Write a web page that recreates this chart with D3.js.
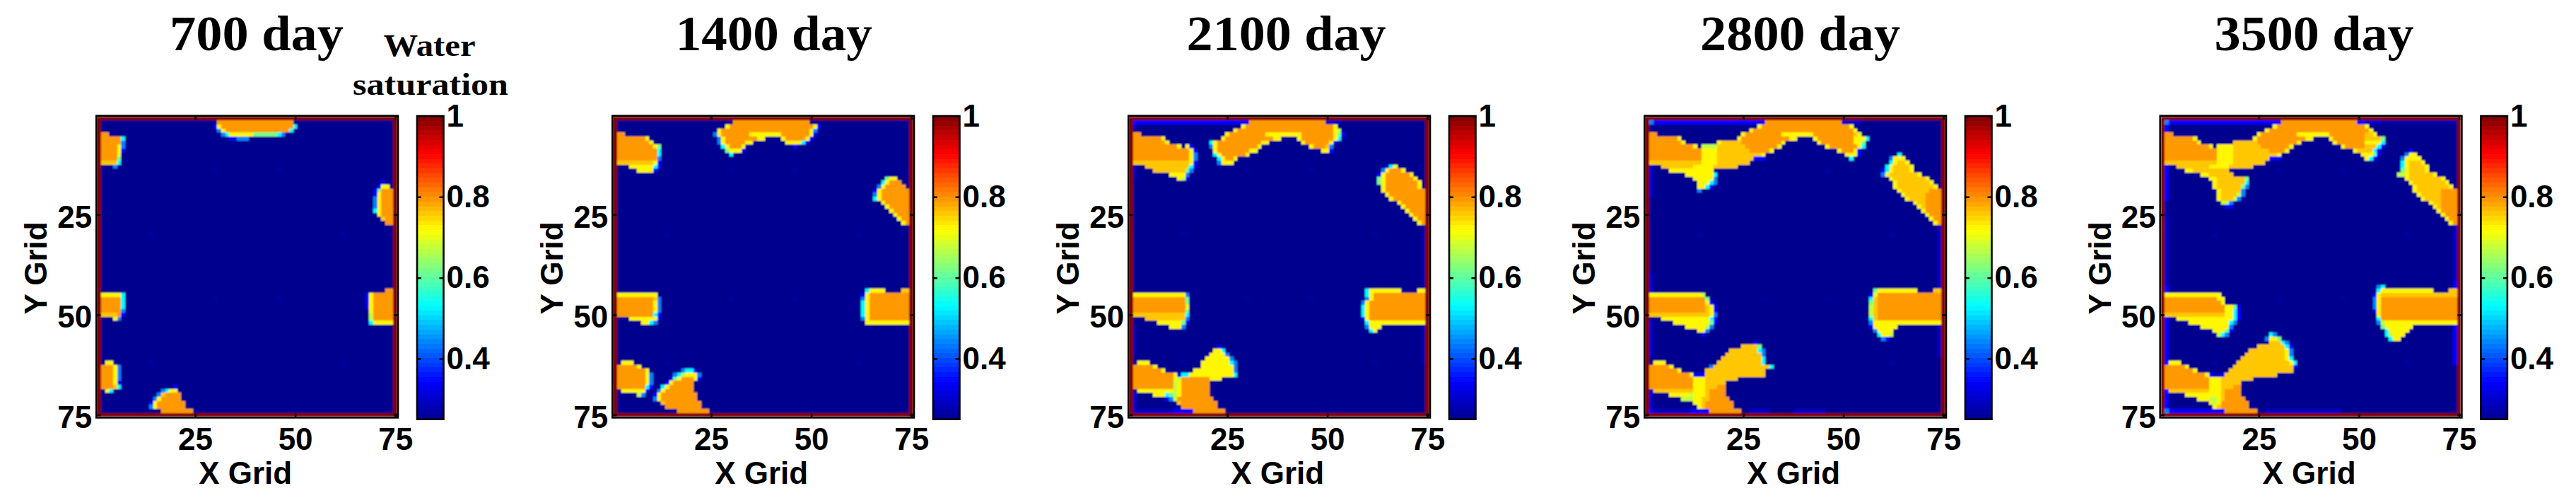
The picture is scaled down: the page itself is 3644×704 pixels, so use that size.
<!DOCTYPE html>
<html><head><meta charset="utf-8">
<script src="https://cdn.jsdelivr.net/npm/d3@7"></script>
<style>html,body{margin:0;background:#fff}svg{display:block}</style></head>
<body><svg id="c" width="3644" height="704"></svg>
<script>
const days=["700 day","1400 day","2100 day","2800 day","3500 day"];
const xTicks=[25,50,75], yTicks=[25,50,75], barTicks=[0.4,0.6,0.8,1];
const gridSize=75, boundaryLines=[1,75], backgroundValue=0.25, boundaryValue=1;
const levelCodes=["f","m","b","a","c","g","l","y","z","o"];
const levelValues=[0.27,0.295,0.344,0.44,0.53,0.62,0.672,0.725,0.76,0.794];
const jetStops=[0,0.125,0.375,0.625,0.875,1];
const jetColors=["#00008f","#0000ff","#00ffff","#ffff00","#ff0000","#800000"];
const faintCells=[[30,14],[46,14],[14,30],[62,30],[30,46],[46,46],[14,62],[62,62]];
// each entry "row|startCol:runs"; runs are count + saturation level code
const sat700=["2|31:19o","3|30:1b1y18o1c","4|31:1a1y16o1c","5|32:1a1c6y6g1c1a","6|34:2b3a",
"5|2:2o","6|2:5o1c","7|2:5o1a","8|2:4o1y1a","9|2:4o1y1b","10|2:4o1y","11|2:4o1g","12|2:4z1c","13|5:1a",
"17|72:1b","18|71:1b2y","19|70:1b1g3o","20|70:1b1y3o","21|70:1a1y3o","22|70:1a1y3o","23|70:1a1y3o","24|70:1c1y3o","25|71:1y3o","26|72:1z2o","27|73:2o",
"45|2:5y1c","46|2:5o1c","47|2:5o1c","48|2:5o1c","49|2:5o1a","50|2:4z1o1b","51|5:1y1a",
"44|73:2o","45|68:1b1y5o","46|68:1b1y5o","47|68:1b1y5o","48|68:1b1y5o","49|69:1y5o","50|69:1l5o","51|69:1l5o","52|69:1c5y",
"62|3:2y","63|2:3o1y1a","64|2:3o1y1a","65|2:3o1y1a","66|2:3o1y1a","67|2:3o1y1b","68|2:3o1z1c","69|3:1y1c",
"68|20:1b","69|17:1a1c2y","70|16:1a1z4o","71|15:1a1y5o","72|14:1b1y7o","73|14:1a1y7o","74|17:8o"];
const sat1400=["2|31:19o","3|29:1y21o1y1b","4|27:1y22o1y1a","5|26:1a1y7o8y7o1y1b","6|27:1a1y8o2y","6|43:1y5o1y1b","7|27:1a1y5o2y","7|44:4y1c1b","8|28:1c1y3o1y","8|46:1b","9|29:1g3y1b","10|30:1c",
"5|2:2o","6|2:7o1y","7|2:8o1y","8|2:9o1y1g","9|2:10o1c","10|2:10o1c","11|2:10o1a","12|2:9z1y1b","13|5:6y1c1b","14|7:4y1b",
"16|69:1g2y","17|68:1c1y3o","18|67:1a1y5o","19|66:1b1y7o","20|66:1a1y7o","21|66:1c1y7o","22|68:1y6o","23|69:1y5o","24|70:1y4o","25|71:1y3o","26|72:1y2o","27|73:1y1o",
"45|2:10y","46|2:9o1z1a","47|2:9o1y1a","48|2:9o1y1a","49|2:9o1y1a","50|2:9o1c1b","51|5:7y1b","52|8:2y1c1a",
"44|64:1c4y","44|73:2z","45|63:1b1y10o","46|63:1a1y10o","47|63:1c1y10o","48|63:1c1y10o","49|63:1c1y10o","50|63:1c1y10o","51|63:1a1y10o","52|64:11y",
"62|3:3y","63|2:5o1y","64|2:7o1y","65|2:7o1y1a","66|2:7o1y1a","67|2:7o1y1a","68|2:7o1c1b","69|3:6y1b","70|7:1l1a",
"64|18:1a2c1b","65|16:1a1c1l3y1a","66|15:1b1g1y3o1y1b","67|14:1b1y5o","68|13:1c1y6o","69|12:1a1y7o","70|11:1b1y9o","71|11:1a1y9o","72|13:1z9o","73|14:9o","74|17:8o"];
const sat2100=["2|2:1b28b19o4m","3|2:1m","3|29:1y22o1y","4|27:1y24o1y1l","5|25:1y9o9y8o1y1g1b","6|24:1y12o2y","6|43:1y8o1y1c","7|21:1c1y11o2y","7|44:1y6o1y1b","8|21:1a1y10o1y","8|46:1y3o1z1a","9|22:1y8o2y","9|49:2y1b","10|22:1c1y6o1y","11|23:1c1y2o1y","12|23:1a3y",
"5|2:2o","6|2:7o1y","7|2:8o1y","8|2:11o1y","8|15:1y1b","9|2:14o1y1b","10|2:14o1y1a","11|2:14o1y1a","12|2:14z1y1b","13|5:11z1c1b","14|7:8z1g1a","15|11:4y1a","16|13:1y1l1b",
"13|65:1b1c1y","14|64:1a1y3o1y","15|63:1b1y6o1y","16|63:1g1y7o1y","17|63:1g1y8o1y","18|64:1y8o1y","19|64:1y10o","20|65:1y9o","21|66:1y8o","22|68:1y6o","23|69:1y5o","24|70:1y4o","25|71:1y3o","26|72:1y2o","27|73:1y1o",
"45|2:13y1a","46|2:13o1g","47|2:13o1g","48|2:13o1y","49|2:13o1g","50|2:13z1c","51|5:10z1a","52|8:6y1g1b","53|11:3y1a",
"44|60:1c8y","44|73:2y","45|60:1c1y13o","46|60:1a1y13o","47|59:1a1y14o","48|59:1c1y14o","49|59:1c1y14o","50|59:1c1y14o","51|59:1b1y14o","52|60:1c14y","53|60:1a3y","54|61:1c1y",
"58|23:1b","59|22:2y1c","60|21:4y1a","61|20:6y1a","62|19:7y1c1a","63|19:8y1a","64|17:10y1a","65|13:1b2c11y1c",
"62|3:3y","63|2:5o1y","64|2:7o1y","65|2:10o1y","66|2:10o1y1l7o3y","67|2:10o1l1y7o","68|2:10o1l1y7o","69|3:9y1l1y7o","70|7:3y1c1g1l1y7o","71|10:1b1a1l9o","72|13:1z9o","73|14:9o","74|2:10m5b","74|17:8o"];
const sat2800=["2|2:1a28b19o5m","3|29:1y22o1y","4|27:1y25o1y","5|25:1y9o8y10o1z1y","6|24:1y12o2y","6|43:1y9o3y1c","7|44:1y8o2y1g","8|46:1y7o1y1c","9|49:1y3o1y1b","10|51:3y1b","11|52:1c",
"5|2:2o","6|2:7o1y","7|2:8o1y","7|19:1y5z10o1y","8|2:11o1y","8|15:4l7z8o1y","9|2:13o4y8z5o1y","10|2:13o4y11z1y","11|2:13o4y9z","11|28:3b","12|2:13z4y8z","13|5:8z5y6z","14|7:11y","15|11:7y1c","16|13:5y1a","17|14:3y1c1a","18|14:2y1c1b","19|14:1a",
"10|64:1c","11|62:1a3y","12|62:1c1y2z1y","13|61:1c1y4z1y","14|60:1b1c1y4z1y","15|60:1a1y7z1y","16|62:1y8z1y","17|63:1y8z1y","18|63:1y9z1y","19|64:1y7z3o","20|65:1y5z4o","21|66:1y4z4o","22|68:1y2z4o","23|69:1y1z4o","24|70:1y4o","25|71:1y3o","26|72:1y2o","27|73:1y1o",
"45|2:13y1l","46|2:14o1g","47|2:14o1y1b","48|2:14o1z1y1b","49|2:14o1z1y1b","50|2:14z1z1y1a","51|5:12y1c1b","52|8:9y1g1b","53|11:5y1l1a","54|14:2y1a","55|15:1b",
"44|58:1g10y","44|73:2z","45|57:1b1y16o","46|57:1c1z16o","47|57:1g1z16o","48|57:1l1z16o","49|57:1l1z16o","50|57:1l1z16o","51|57:1c1z16o","52|57:1a17y","53|57:1b6y","54|58:1a4y","55|59:1c2y1l","56|60:1a1b",
"57|28:1b","58|25:4z1g","59|22:7z1c1a","60|21:9z1a","61|20:10z1c","62|19:11z1c","62|3:3y","63|17:1a14z1c","63|2:5o1y","64|2:7o1y","64|16:15z","65|2:10o1y","65|13:3b15z","66|2:11o3y8z","67|2:11o3y5z","68|2:11o3y3z2o","69|3:10z3y1z4o","70|7:5y1l3y1z4o","71|10:3l2y2z5o","72|13:2y1z7o","73|14:1y1z7o","74|2:1b9m5b","74|17:8o","74|27:5m","74|38:8m"];
const sat3500=["2|2:1a15b13b19o2b4m","2|56:19f","3|2:1b","3|29:1y22o1y","4|2:1b","4|27:1y25o1y","5|25:1y9o8y9o2z1y","6|24:1y12o2y","6|43:1y8o4z1g","7|19:6z10o1y","7|44:1y7o4y1c","8|46:1y5o3z1c1b","9|49:1y4z1c1b","10|51:3y1g1b","11|52:1y1c1b",
"5|2:2o","6|2:7o1y","7|2:8o1y","8|2:11o1y","8|15:4y7z7o1y","9|2:13o4y9z4o1y","10|2:13o4y11z1y","11|2:13o4y9z","11|28:3b","12|2:13z4y8z","13|5:8z5y6z","14|7:2y9z","15|11:2y6z","16|13:2y7z1g","17|14:1y7z1c","18|14:1y6z1g1a","19|15:1y5z1a","20|15:1y4z1l1a","21|15:1y3z1l1a","22|16:2l1a","23|17:2b",
"9|63:1b","10|62:1a2y","11|61:1a4y","12|61:1c1y3z1y","13|61:1c1y4z1y","14|61:1g1y4z1y","15|60:2l1y6z1y","16|62:1y8z1y","17|63:1y8z1y","18|64:1y8z1y","19|64:1y6z4o","20|65:1y5z4o","21|66:1y4z4o","22|68:1y2z4o","23|69:1y1z4o","24|70:1y4o","25|71:1y3o","26|72:1y2o","27|73:1y1o",
"45|2:14y","46|2:13o2y","47|2:14o1y","48|2:15o2y1g1b","49|2:15o2y1c1b","50|2:15z2y1c1b","51|5:14y1c1b","52|8:10y1c1a","53|11:7y1a","54|14:3y1g1b","55|15:1l1c1a",
"43|55:1a1c","44|55:1c13y","44|73:2z","45|54:1b1y19z","46|54:1a1y19o","47|54:1a1y19o","48|54:1a1y19o","49|54:1b1y19o","50|55:1y19o","51|55:1c19o","52|55:1a1l18y","53|56:1g7y","54|57:1c5y","55|57:1c1l3y","56|58:1c2y",
"55|28:1c1a","56|27:1a2y1g","57|28:3z1c1a","58|25:7z1c1b","59|23:9z1y1a","60|22:10z1y1a","61|21:11z1y1c","62|3:3y","62|20:13z1y1c","63|2:5o1y","63|19:15z1b","64|2:7o1y","64|18:16z","65|2:10o1y","65|13:1b2m1b","65|17:13z","66|2:11o3y8z","67|2:11o3y5z","68|2:11o3y3z2o","69|3:10z3y1z4o","70|7:9y1z4o","71|10:3y2l1y1z5o","72|13:1y1l1y7o","73|14:1y1z7o","74|2:1a6b8b","74|17:8o","74|27:10m9m"];
// columns with a faint blue line: [col, firstRow, lastRow, level]
const edges700=[], edges1400=[];
const edges2100=[[2,13,16,"f"],[2,53,60,"f"],[2,70,73,"m"],[74,28,43,"f"],[74,53,62,"f"]];
const edges2800=[[2,13,20,"m"],[2,40,44,"m"],[2,52,60,"m"],[2,69,73,"m"],[74,28,44,"m"],[74,53,60,"m"]];
const edges3500=[[2,13,21,"b"],[2,22,25,"f"],[2,26,42,"m"],[2,43,44,"b"],[2,51,62,"b"],[2,69,73,"b"],[74,28,41,"m"],[74,42,43,"b"],[74,52,62,"b"]];
const panelData=[sat700,sat1400,sat2100,sat2800,sat3500];
const panelEdges=[edges700,edges1400,edges2100,edges2800,edges3500];
const panelLefts=[137.3,867.3,1597.3,2327.3,3056.7];
const titleCenters=[363,1094.7,1819.6,2546.6,3273.6];
const titleWidths=[246,278,282,283,282];

const valueOf=Object.fromEntries(levelCodes.map((c,i)=>[c,levelValues[i]]));
const jet=d3.scaleLinear().domain(jetStops).range(jetColors).interpolate(d3.interpolateRgb);
const colour=d3.scaleLinear().domain([0.25,1]).range([0,1]).clamp(true);
const frameTop=164.7, side=424.7;
const svg=d3.select("#c");
const defs=svg.append("defs");
defs.append("filter").attr("id","soft").attr("x","-2%").attr("y","-2%").attr("width","104%").attr("height","104%")
  .append("feGaussianBlur").attr("stdDeviation",1);
const sans="'Liberation Sans',Arial,sans-serif", serif="'Liberation Serif','Times New Roman',serif";

function buildGrid(rows,edges){
  const g=d3.range(gridSize).map(()=>new Array(gridSize).fill(backgroundValue));
  faintCells.forEach(([c,r])=>g[r-1][c-1]=valueOf.f);
  edges.forEach(([c,a,b,l])=>{for(let r=a;r<=b;r++)g[r-1][c-1]=valueOf[l];});
  rows.forEach(s=>{
    const [r,body]=s.split("|");
    body.split(" ").forEach(seg=>{
      const [st,runs]=seg.split(":");let c=+st;
      for(const m of runs.matchAll(/(\d+)([a-z])/g)){
        for(let i=0;i<+m[1];i++){g[+r-1][c-1]=valueOf[m[2]];c++;}
      }
    });
  });
  boundaryLines.forEach(k=>{for(let i=0;i<gridSize;i++){g[k-1][i]=boundaryValue;g[i][k-1]=boundaryValue;}});
  return g;
}
function styleTicks(sel){
  sel.select(".domain").remove();
  sel.selectAll("line").attr("stroke","#000").attr("stroke-width",2.5);
  sel.selectAll("text").attr("fill","#000").attr("font-family",sans).attr("font-weight","bold").attr("font-size",44);
}
panelData.forEach((rows,p)=>{
  const left=panelLefts[p];
  const x=d3.scaleLinear().domain([0.5,75.5]).range([left,left+side]);
  const y=d3.scaleLinear().domain([0.5,75.5]).range([frameTop,frameTop+side]);
  const grid=buildGrid(rows,panelEdges[p]);
  const cells=grid.flatMap((row,r)=>row.map((v,c)=>({r:r+1,c:c+1,v})));
  svg.append("g").attr("class","heat").attr("filter","url(#soft)").selectAll("rect").data(cells).join("rect")
    .attr("x",d=>x(d.c-0.5)).attr("y",d=>y(d.r-0.5))
    .attr("width",x(1.5)-x(0.5)).attr("height",y(1.5)-y(0.5))
    .attr("shape-rendering","crispEdges")
    .attr("fill",d=>jet(colour(d.v)));
  // frame and axes
  svg.append("rect").attr("x",left-1).attr("y",frameTop-1).attr("width",side+2).attr("height",side+2)
    .attr("fill","none").attr("stroke","#000").attr("stroke-width",2.6);
  svg.append("g").attr("transform",`translate(0,${frameTop+side})`)
    .call(d3.axisBottom(x).tickValues(xTicks).tickSize(-5).tickPadding(15)).call(styleTicks);
  svg.append("g").attr("transform",`translate(0,${frameTop})`)
    .call(d3.axisTop(x).tickValues(xTicks).tickSize(-5).tickFormat("")).call(styleTicks);
  const ya=svg.append("g").attr("transform",`translate(${left},0)`)
    .call(d3.axisLeft(y).tickValues(yTicks).tickSize(-5).tickPadding(7)).call(styleTicks);
  ya.selectAll("text").attr("dy","0.4em");
  svg.append("g").attr("transform",`translate(${left+side},0)`)
    .call(d3.axisRight(y).tickValues(yTicks).tickSize(-5).tickFormat("")).call(styleTicks);
  svg.append("text").text("X Grid").attr("x",left+side/2-2.5).attr("y",684)
    .attr("text-anchor","middle").attr("font-family",sans).attr("font-weight","bold").attr("font-size",44);
  svg.append("text").text("Y Grid").attr("transform",`translate(${left-71},379) rotate(-90)`)
    .attr("text-anchor","middle").attr("font-family",sans).attr("font-weight","bold").attr("font-size",44);
  // colour bar
  const bx=left+452.7, bw=37.5, by=d3.scaleLinear().domain([0.25,1]).range([592.7,frameTop-0.7]);
  const steps=d3.range(64).map(i=>0.25+i*0.75/64);
  svg.append("g").attr("class","bar").selectAll("rect").data(steps).join("rect")
    .attr("x",bx).attr("width",bw).attr("y",d=>by(d+0.75/64)).attr("height",d=>by(d)-by(d+0.75/64)+0.4)
    .attr("shape-rendering","crispEdges").attr("fill",d=>jet(colour(d+0.375/64)));
  svg.append("rect").attr("x",bx).attr("y",by(1)).attr("width",bw).attr("height",by(0.25)-by(1))
    .attr("fill","none").attr("stroke","#000").attr("stroke-width",2.6);
  const fmt=d=>d===1?"1":d.toFixed(1);
  svg.append("g").attr("transform",`translate(${bx+bw},0)`)
    .call(d3.axisRight(by).tickValues(barTicks).tickSize(-6).tickPadding(4).tickFormat(fmt)).call(styleTicks);
  svg.append("g").attr("transform",`translate(${bx},0)`)
    .call(d3.axisLeft(by).tickValues(barTicks).tickSize(-6).tickFormat("")).call(styleTicks);
  // title
  svg.append("text").text(days[p]).attr("x",titleCenters[p]).attr("y",71)
    .attr("text-anchor","middle").attr("font-family",serif).attr("font-weight","bold").attr("font-size",69)
    .attr("textLength",titleWidths[p]).attr("lengthAdjust","spacingAndGlyphs");
});
[["Water",607.6,79,130],["saturation",609,134,220]].forEach(([t,cx,yy,w])=>{
  svg.append("text").text(t).attr("x",cx).attr("y",yy).attr("text-anchor","middle")
    .attr("font-family",serif).attr("font-weight","bold").attr("font-size",44)
    .attr("textLength",w).attr("lengthAdjust","spacingAndGlyphs");
});
</script></body></html>
